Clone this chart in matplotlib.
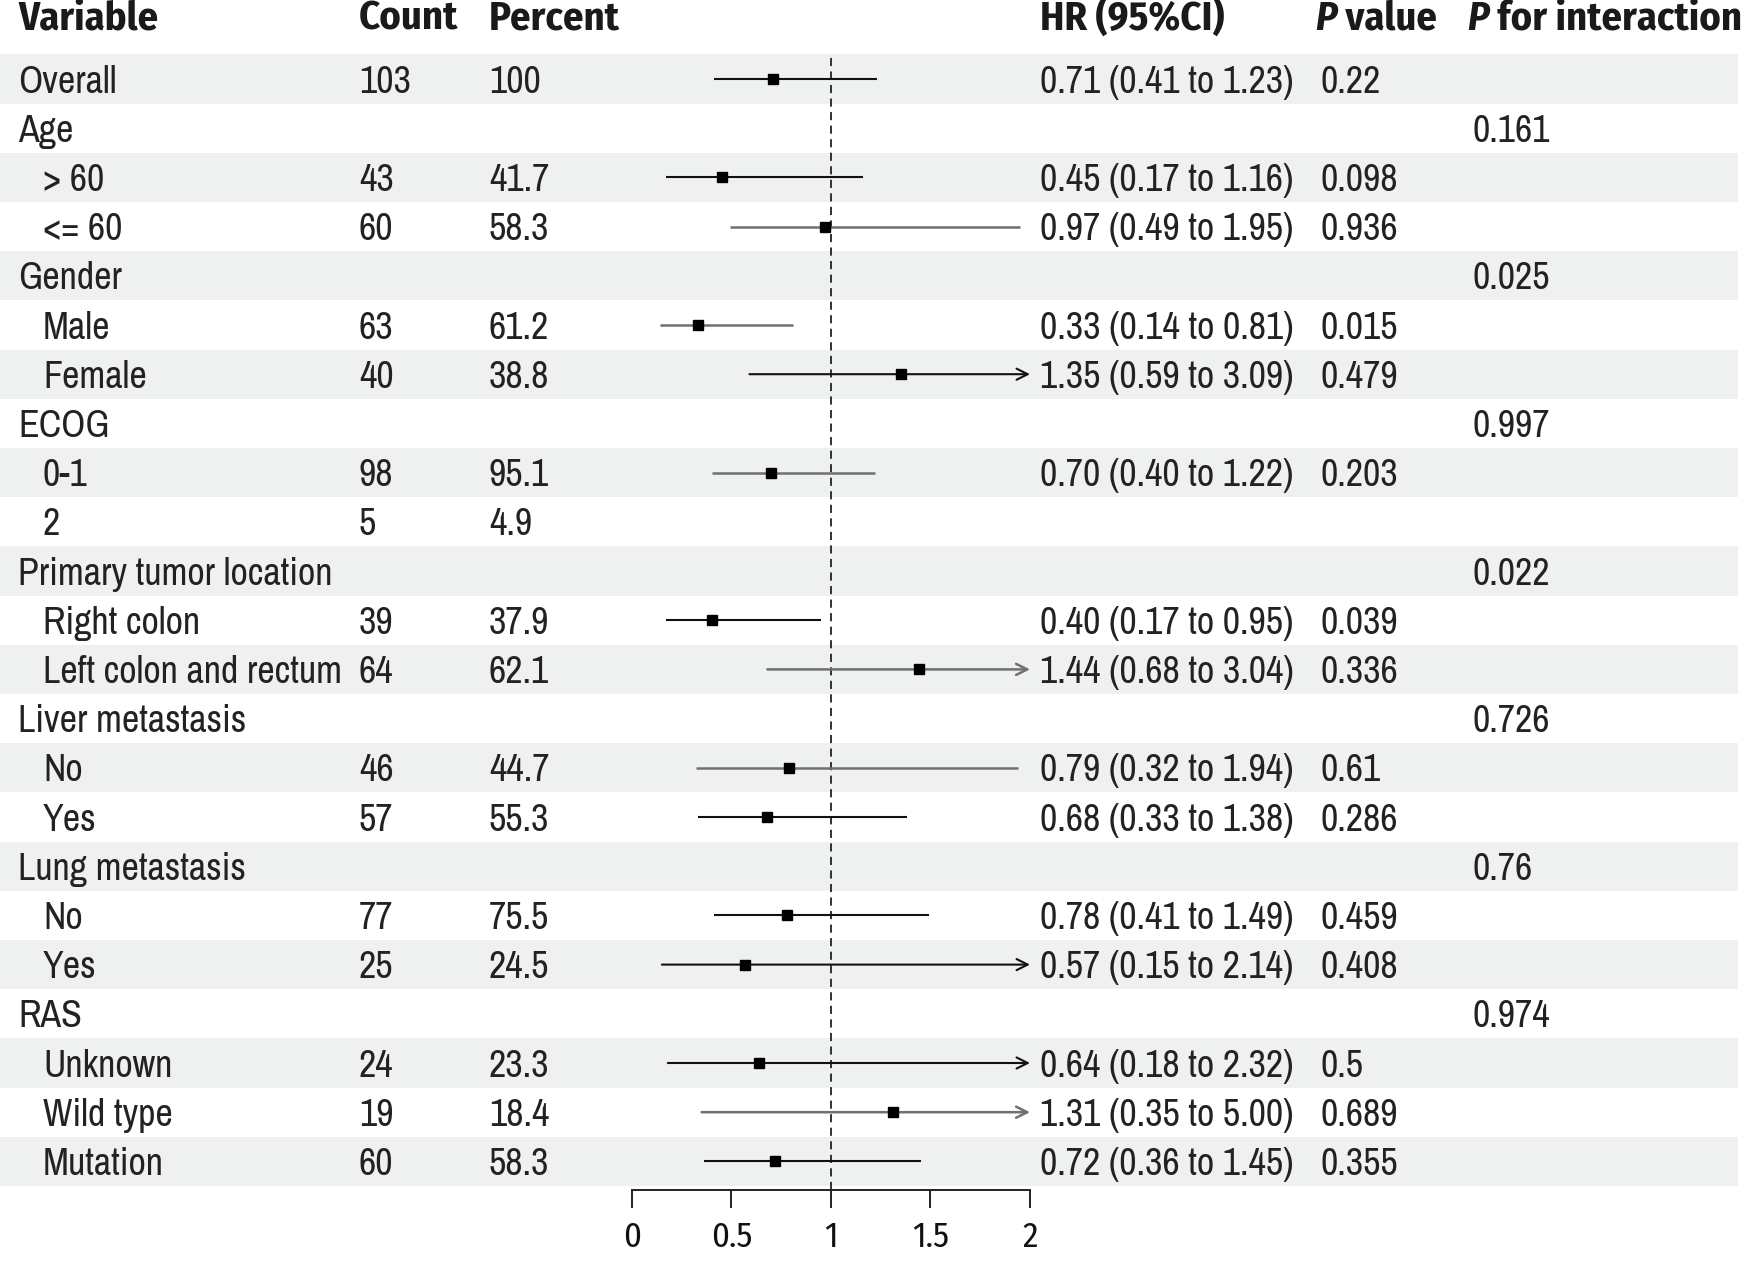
import numpy as np
import matplotlib
matplotlib.use("Agg")
import matplotlib.pyplot as plt

# table rows, top to bottom
variables = ["Overall", "Age", "> 60", "<= 60", "Gender", "Male", "Female",
             "ECOG", "0-1", "2", "Primary tumor location", "Right colon",
             "Left colon and rectum", "Liver metastasis", "No", "Yes",
             "Lung metastasis", "No", "Yes", "RAS", "Unknown", "Wild type", "Mutation"]
indent = [0, 0, 1, 1, 0, 1, 1, 0, 1, 1, 0, 1, 1, 0, 1, 1, 0, 1, 1, 0, 1, 1, 1]
count = ["103", "", "43", "60", "", "63", "40", "", "98", "5", "", "39", "64",
         "", "46", "57", "", "77", "25", "", "24", "19", "60"]
percent = ["100", "", "41.7", "58.3", "", "61.2", "38.8", "", "95.1", "4.9", "",
           "37.9", "62.1", "", "44.7", "55.3", "", "75.5", "24.5", "", "23.3", "18.4", "58.3"]
nan = np.nan
hr = [0.71, nan, 0.45, 0.97, nan, 0.33, 1.35, nan, 0.70, nan, nan, 0.40, 1.44,
      nan, 0.79, 0.68, nan, 0.78, 0.57, nan, 0.64, 1.31, 0.72]
lo = [0.41, nan, 0.17, 0.49, nan, 0.14, 0.59, nan, 0.40, nan, nan, 0.17, 0.68,
      nan, 0.32, 0.33, nan, 0.41, 0.15, nan, 0.18, 0.35, 0.36]
hi = [1.23, nan, 1.16, 1.95, nan, 0.81, 3.09, nan, 1.22, nan, nan, 0.95, 3.04,
      nan, 1.94, 1.38, nan, 1.49, 2.14, nan, 2.32, 5.00, 1.45]
pval = ["0.22", "", "0.098", "0.936", "", "0.015", "0.479", "", "0.203", "", "",
        "0.039", "0.336", "", "0.61", "0.286", "", "0.459", "0.408", "", "0.5", "0.689", "0.355"]
pint = ["", "0.161", "", "", "0.025", "", "", "0.997", "", "", "0.022", "", "",
        "0.726", "", "", "0.76", "", "", "0.974", "", "", ""]
xticks = [0, 0.5, 1, 1.5, 2]

# look of the CI lines (some come out grey in the original raster)
line_col = ["#111111"] * len(variables)
for k in [3, 5, 8, 12, 14, 21]:
    line_col[k] = "#707070"

W, H = 1756, 1264
row0, rstep = 79, 49.2
xmax = 2.0
txt = "#222222"
band = "#eff1f1"
BODY = ["Archivo Narrow", "PT Sans Narrow", "Liberation Sans", "DejaVu Sans"]
HEAD = ["Fira Sans Condensed", "PT Sans Narrow", "Liberation Sans", "DejaVu Sans"]

# column x positions (pixels)
x_var, x_sub, x_cnt, x_pct, x_hr, x_p, x_pi = 18, 43, 359, 489, 1040, 1321, 1473

fig = plt.figure(figsize=(W / 100, H / 100), dpi=100)
tab = fig.add_axes([0, 0, 1, 1])
tab.set_xlim(0, W)
tab.set_ylim(H, 0)
tab.axis("off")
r = fig.canvas.get_renderer()


def width_of(s, **kw):
    t = tab.text(0, 0, s, **kw)
    w = t.get_window_extent(renderer=r).width
    t.remove()
    return w


# pick sizes so the widths match the reference columns
bsize = 28 * 300 / width_of("Left colon and rectum", fontsize=28, family=BODY)
hsize = 30 * 140 / width_of("Variable", fontsize=30, family=HEAD, fontweight="bold")
tsize = 24 * 37 / width_of("1.5", fontsize=24, family=HEAD)

n = len(variables)
ys = [row0 + rstep * i for i in range(n)]

# zebra bands
for i in range(0, n, 2):
    tab.add_patch(plt.Rectangle((0, ys[i] - rstep / 2), 1738, rstep,
                                facecolor=band, edgecolor="none", zorder=0))

# header
hy = 30
hkw = dict(fontsize=hsize, fontweight="bold", family=HEAD, color="#1a1a1a", va="baseline")
tab.text(x_var, hy, "Variable", **hkw)
tab.text(x_cnt, hy, "Count", **hkw)
tab.text(x_pct, hy, "Percent", **hkw)
tab.text(x_hr, hy, "HR (95%CI)", **hkw)
for x0, rest in [(x_p - 6, " value"), (x_pi - 6, " for interaction")]:
    t = tab.text(x0, hy, "P", fontstyle="italic", **hkw)
    wpx = t.get_window_extent(renderer=r).width
    tab.text(x0 + wpx, hy, rest, **hkw)

# body text, baseline put so the caps sit centred in the row
boff = 0.36 * bsize * 100 / 72
bkw = dict(fontsize=bsize, family=BODY, color=txt, va="baseline")
for i in range(n):
    y = ys[i] + boff
    tab.text(x_sub if indent[i] else x_var, y, variables[i], **bkw)
    tab.text(x_cnt, y, count[i], **bkw)
    tab.text(x_pct, y, percent[i], **bkw)
    if not np.isnan(hr[i]):
        tab.text(x_hr, y, f"{hr[i]:.2f} ({lo[i]:.2f} to {hi[i]:.2f})", **bkw)
    tab.text(x_p, y, pval[i], **bkw)
    tab.text(x_pi, y, pint[i], **bkw)

# forest panel
x_left, x_right = 632, 1030
y_axis = 1190
y_top = row0 - rstep / 2
ax = fig.add_axes([x_left / W, 1 - y_axis / H, (x_right - x_left) / W, (y_axis - y_top) / H])
ax.patch.set_alpha(0)
ax.set_xlim(0, xmax)
ax.set_ylim((y_axis - row0) / rstep, -0.5)
for s in ["top", "right", "left"]:
    ax.spines[s].set_visible(False)
ax.spines["bottom"].set_linewidth(1.4)
ax.spines["bottom"].set_color("#222222")
ax.set_yticks([])
ax.set_xticks(xticks)
ax.set_xticklabels([f"{v:g}" for v in xticks], fontsize=tsize, family=HEAD, color="#111111")
ax.tick_params(axis="x", direction="out", length=13, width=1.4, color="#222222", pad=9)

ax.axvline(1, color="#222222", lw=1.3, linestyle=(0, (4.5, 3)), zorder=1)

for i in range(n):
    if np.isnan(hr[i]):
        continue
    c = line_col[i]
    w = 1.8 if c != "#111111" else 1.5
    if hi[i] > xmax:
        ax.annotate("", xy=(xmax, i), xytext=(lo[i], i),
                    arrowprops=dict(arrowstyle="->", lw=w, color=c,
                                    shrinkA=0, shrinkB=0, mutation_scale=20),
                    annotation_clip=False, zorder=2)
    else:
        ax.plot([lo[i], hi[i]], [i, i], color=c, lw=w, solid_capstyle="butt", zorder=2)
    ax.plot(hr[i], i, marker="s", markersize=7.5, color="#000000", zorder=3)

fig.savefig("out.png", dpi=100)
